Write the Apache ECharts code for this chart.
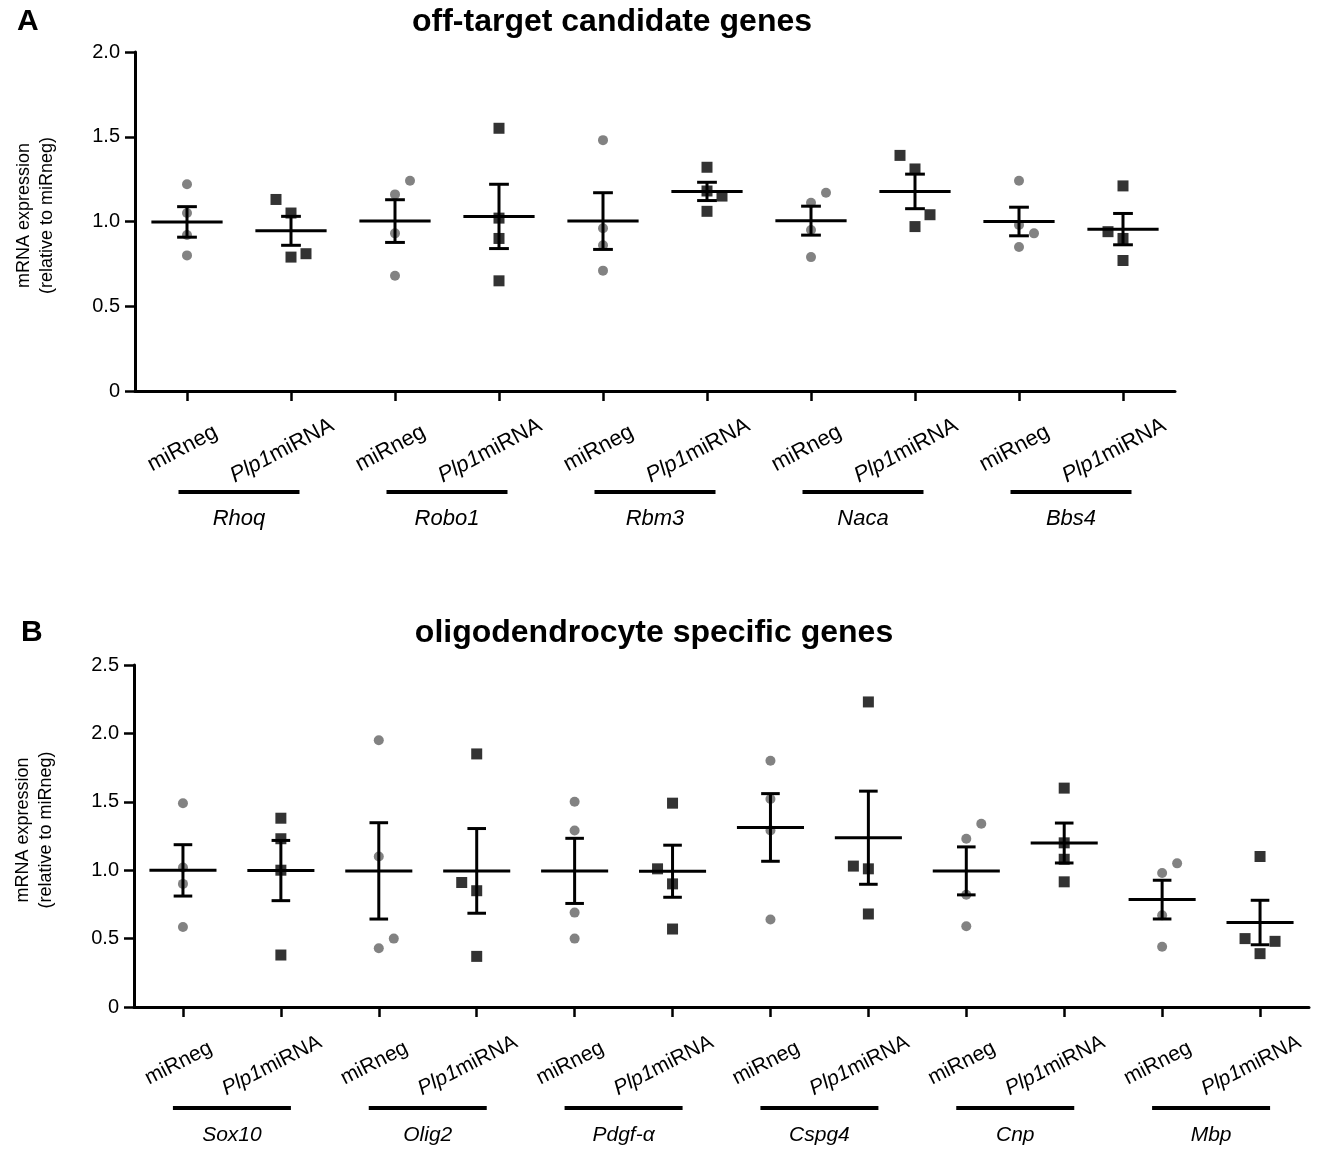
<!DOCTYPE html>
<html><head><meta charset="utf-8">
<script src="https://cdn.jsdelivr.net/npm/echarts@6/dist/echarts.min.js"></script>
<style>html,body{margin:0;padding:0;background:#fff}#c{width:1319px;height:1153px}</style>
</head><body><div id="c"></div>
<script>
// ---------- data ----------
const conditions = ['miRneg', 'Plp1miRNA'];
const genesA = ['Rhoq', 'Robo1', 'Rbm3', 'Naca', 'Bbs4'];
const genesB = ['Sox10', 'Olig2', 'Pdgf-α', 'Cspg4', 'Cnp', 'Mbp'];
const yTicksA = ['0', '0.5', '1.0', '1.5', '2.0'];
const yTicksB = ['0', '0.5', '1.0', '1.5', '2.0', '2.5'];

// Panel A: individual replicate values per gene
const miRnegA = [
  [1.22, 1.05, 0.92, 0.80],
  [1.16, 1.24, 0.93, 0.68],
  [1.48, 0.96, 0.86, 0.71],
  [1.11, 1.17, 0.95, 0.79],
  [1.24, 0.98, 0.93, 0.85]
];
const plp1A = [
  [1.13, 1.05, 0.79, 0.81],
  [1.55, 1.02, 0.90, 0.65],
  [1.32, 1.18, 1.15, 1.06],
  [1.39, 1.31, 1.04, 0.97],
  [1.21, 0.94, 0.90, 0.77]
];
// Panel B
const miRnegB = [
  [1.49, 1.02, 0.90, 0.585],
  [1.95, 1.10, 0.50, 0.43],
  [1.50, 1.29, 0.69, 0.50],
  [1.80, 1.52, 1.29, 0.64],
  [1.34, 1.23, 0.82, 0.59],
  [1.05, 0.98, 0.67, 0.44]
];
const plp1B = [
  [1.38, 1.23, 1.00, 0.38],
  [1.85, 0.91, 0.85, 0.37],
  [1.49, 1.01, 0.90, 0.57],
  [2.23, 1.03, 1.01, 0.68],
  [1.60, 1.20, 1.08, 0.915],
  [1.10, 0.50, 0.48, 0.39]
];
// side-by-side placement of overlapping replicates (-1 left, 0 centre, 1 right)
const jitMiRnegA = [[0,0,0,0],[0,1,0,0],[0,0,0,0],[0,1,0,0],[0,0,1,0]];
const jitPlp1A   = [[-1,0,0,1],[0,0,0,0],[0,0,1,0],[-1,0,1,0],[0,-1,0,0]];
const jitMiRnegB = [[0,0,0,0],[0,0,1,0],[0,0,0,0],[0,0,0,0],[1,0,0,0],[1,0,0,0]];
const jitPlp1B   = [[0,0,0,0],[0,-1,0,0],[0,-1,0,0],[0,-1,0,0],[0,0,0,0],[0,-1,1,0]];

// ---------- helpers ----------
const FONT = '"Liberation Sans", Arial, Helvetica, sans-serif';
const JIT_PX = 15;
function cats(genes) { const o = []; genes.forEach(() => conditions.forEach(c => o.push(c))); return o; }
function pts(vals, jit, ci) {
  const out = [];
  vals.forEach((arr, g) => arr.forEach((v, k) => out.push({ value: [g * 2 + ci, v], symbolOffset: [jit[g][k] * JIT_PX, 0] })));
  return out;
}
function stats(vals, ci) {
  return vals.map((arr, g) => {
    const n = arr.length, m = arr.reduce((a, b) => a + b, 0) / n;
    const sd = Math.sqrt(arr.reduce((a, b) => a + (b - m) * (b - m), 0) / (n - 1));
    return [g * 2 + ci, m, sd / Math.sqrt(n)];
  });
}
function renderErr(params, api) {
  const x = api.value(0), m = api.value(1), s = api.value(2);
  const pm = api.coord([x, m]), ph = api.coord([x, m + s]), pl = api.coord([x, m - s]);
  const w = api.size([1, 0])[0];
  const mw = w * 0.685, cw = w * 0.19;
  const st = { stroke: '#000', lineWidth: 3 };
  return { type: 'group', children: [
    { type: 'line', shape: { x1: pm[0] - mw / 2, y1: pm[1], x2: pm[0] + mw / 2, y2: pm[1] }, style: st },
    { type: 'line', shape: { x1: pm[0], y1: ph[1], x2: pm[0], y2: pl[1] }, style: st },
    { type: 'line', shape: { x1: pm[0] - cw / 2, y1: ph[1], x2: pm[0] + cw / 2, y2: ph[1] }, style: st },
    { type: 'line', shape: { x1: pm[0] - cw / 2, y1: pl[1], x2: pm[0] + cw / 2, y2: pl[1] }, style: st }
  ]};
}
function condLabel(fs, rot, margin) {
  return {
    interval: 0, rotate: rot, align: 'center', verticalAlign: 'middle', margin: margin,
    color: '#000', fontSize: fs, fontFamily: FONT,
    formatter: v => v === 'miRneg' ? '{m|miRneg}' : '{i|Plp1}{n|miRNA}',
    rich: {
      m: { fontSize: fs, fontFamily: FONT, color: '#000', padding: [0, 10, 0, 0] },
      i: { fontSize: fs, fontFamily: FONT, color: '#000', fontStyle: 'italic' },
      n: { fontSize: fs, fontFamily: FONT, color: '#000', padding: [0, 20, 0, 0] }
    }
  };
}
function geneLabel(barW, fs) {
  return {
    interval: 0, margin: 99, color: '#000', fontFamily: FONT,
    formatter: g => '{bar| }\n{g|' + g + '}',
    rich: {
      bar: { width: barW, height: 4, lineHeight: 4, backgroundColor: '#000', fontSize: 4 },
      g: { fontStyle: 'italic', fontSize: fs, lineHeight: 50, color: '#000', fontFamily: FONT }
    }
  };
}
const axisLine = { show: true, lineStyle: { color: '#000', width: 3 } };
const axisTick = { show: true, length: 10, lineStyle: { color: '#000', width: 2.5 } };
function yAxis(gi, max, ticks) {
  return {
    type: 'value', gridIndex: gi, min: 0, max: max, interval: 0.5,
    axisLine: axisLine, axisTick: axisTick, splitLine: { show: false },
    axisLabel: { color: '#000', fontSize: 20, fontFamily: FONT, margin: 15, formatter: v => ticks[Math.round(v / 0.5)] },
    name: 'mRNA expression\n(relative to miRneg)', nameLocation: 'middle', nameGap: 76,
    nameTextStyle: { color: '#000', fontSize: 18, lineHeight: 23, fontFamily: FONT, padding: [0, 0, 0, 12] }
  };
}
function panelSeries(xi, yi, mv, pv, jm, jp) {
  return [
    { type: 'scatter', xAxisIndex: xi, yAxisIndex: yi, symbol: 'circle', symbolSize: 10, itemStyle: { color: '#636363' }, data: pts(mv, jm, 0), z: 2 },
    { type: 'scatter', xAxisIndex: xi, yAxisIndex: yi, symbol: 'rect', symbolSize: 11, itemStyle: { color: '#000' }, data: pts(pv, jp, 1), z: 2 },
    { type: 'custom', xAxisIndex: xi, yAxisIndex: yi, renderItem: renderErr, encode: { x: 0, y: 1 }, data: stats(mv, 0).concat(stats(pv, 1)), z: 3 }
  ];
}

const option = {
  animation: false,
  textStyle: { fontFamily: FONT },
  grid: [
    { left: 135, top: 52, width: 1040, height: 339 },
    { left: 134, top: 665, width: 1175, height: 342 }
  ],
  xAxis: [
    { type: 'category', gridIndex: 0, data: cats(genesA), axisLine: axisLine, axisTick: Object.assign({ alignWithLabel: true, interval: 0 }, axisTick), axisLabel: condLabel(22, 28, 55) },
    { type: 'category', gridIndex: 0, data: genesA, position: 'bottom', axisLine: { show: false }, axisTick: { show: false }, axisLabel: geneLabel(121, 22) },
    { type: 'category', gridIndex: 1, data: cats(genesB), axisLine: axisLine, axisTick: Object.assign({ alignWithLabel: true, interval: 0 }, axisTick), axisLabel: condLabel(21, 27, 54) },
    { type: 'category', gridIndex: 1, data: genesB, position: 'bottom', axisLine: { show: false }, axisTick: { show: false }, axisLabel: geneLabel(118, 21) }
  ],
  yAxis: [ yAxis(0, 2, yTicksA), yAxis(1, 2.5, yTicksB) ],
  graphic: [
    { type: 'text', left: 17, top: 7, style: { text: 'A', font: 'bold 30px ' + FONT, fill: '#000' } },
    { type: 'text', left: 21, top: 618, style: { text: 'B', font: 'bold 30px ' + FONT, fill: '#000' } },
    { type: 'text', x: 612, y: 22, style: { text: 'off-target candidate genes', font: 'bold 32px ' + FONT, fill: '#000', textAlign: 'center', textVerticalAlign: 'middle' } },
    { type: 'text', x: 654, y: 633, style: { text: 'oligodendrocyte specific genes', font: 'bold 32px ' + FONT, fill: '#000', textAlign: 'center', textVerticalAlign: 'middle' } }
  ],
  series: [].concat(
    panelSeries(0, 0, miRnegA, plp1A, jitMiRnegA, jitPlp1A),
    panelSeries(2, 1, miRnegB, plp1B, jitMiRnegB, jitPlp1B)
  )
};
const chart = echarts.init(document.getElementById('c'), null, { renderer: 'canvas' });
chart.setOption(option);
</script>
</body></html>
